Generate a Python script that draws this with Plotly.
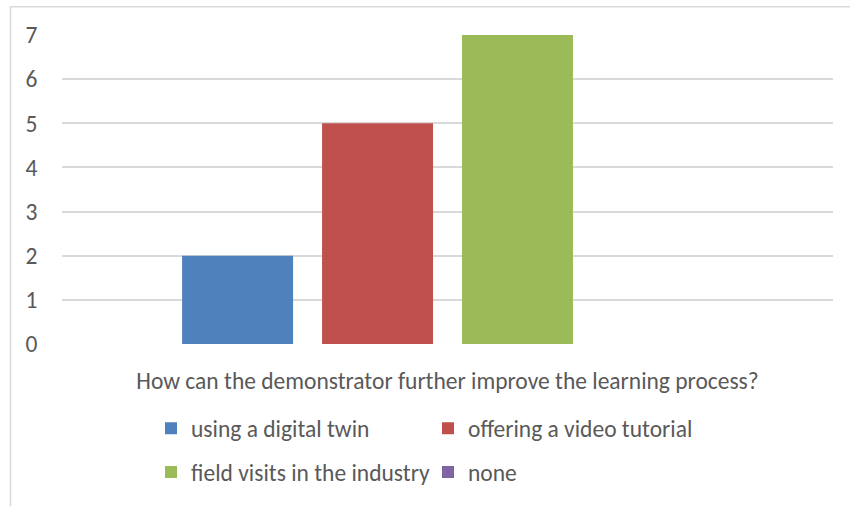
import plotly.graph_objects as go

category = ["How can the demonstrator further improve the learning process?"]
series_names = ["using a digital twin", "offering a video tutorial",
                "field visits in the industry", "none"]
series_values = [2, 5, 7, 0]
series_colors = ["#4F81BD", "#C0504D", "#9BBB59", "#8064A2"]
y_ticks = [0, 1, 2, 3, 4, 5, 6, 7]

FONT = "Carlito, Lato, sans-serif"
TXT = "#595959"
FS = 23.5

fig = go.Figure()
for i, (name, val, col) in enumerate(zip(series_names, series_values, series_colors)):
    fig.add_trace(go.Bar(
        x=category, y=[val], name=name, marker_color=col,
        marker_line_width=0,
        legend="legend" if i < 2 else "legend2",
    ))

L, R, T, B = 62, 17, 35, 160
W, H = 850, 506
pw, ph = W - L - R, H - T - B

leg_common = dict(orientation="h", x=(151 - L) / pw, xanchor="left",
                  yanchor="middle", entrywidth=232, entrywidthmode="pixels",
                  font=dict(family=FONT, size=FS, color=TXT),
                  bgcolor="rgba(0,0,0,0)")

fig.update_layout(
    width=W, height=H,
    margin=dict(l=L, r=R, t=T, b=B),
    paper_bgcolor="white", plot_bgcolor="white",
    barmode="group", bargap=0.274, bargroupgap=0.207,
    font=dict(family=FONT, size=FS, color=TXT),
    legend=dict(leg_common, y=-(431 - (T + ph)) / ph),
    legend2=dict(leg_common, y=-(475 - (T + ph)) / ph),
    shapes=[dict(type="rect", xref="paper", yref="paper",
                 x0=(10.5 - L) / pw, x1=(W + 20 - L) / pw,
                 y0=-(H + 20 - T - ph) / ph, y1=1 + (T - 6.5) / ph,
                 line=dict(color="#D9D9D9", width=1.5), layer="below")],
)
fig.update_xaxes(showgrid=False, showline=False, zeroline=False,
                 ticks="outside", ticklen=16, tickcolor="rgba(0,0,0,0)",
                 tickfont=dict(family=FONT, size=FS, color=TXT))
fig.update_yaxes(range=[0, 7], tickvals=y_ticks, showgrid=True,
                 gridcolor="#D9D9D9", gridwidth=1.5, zeroline=False,
                 showline=False, ticks="outside", ticklen=19,
                 tickcolor="rgba(0,0,0,0)",
                 tickfont=dict(family=FONT, size=FS, color=TXT))

fig.write_html("out.html", config={"displayModeBar": False},
               post_script="document.body.style.margin='0px';")
